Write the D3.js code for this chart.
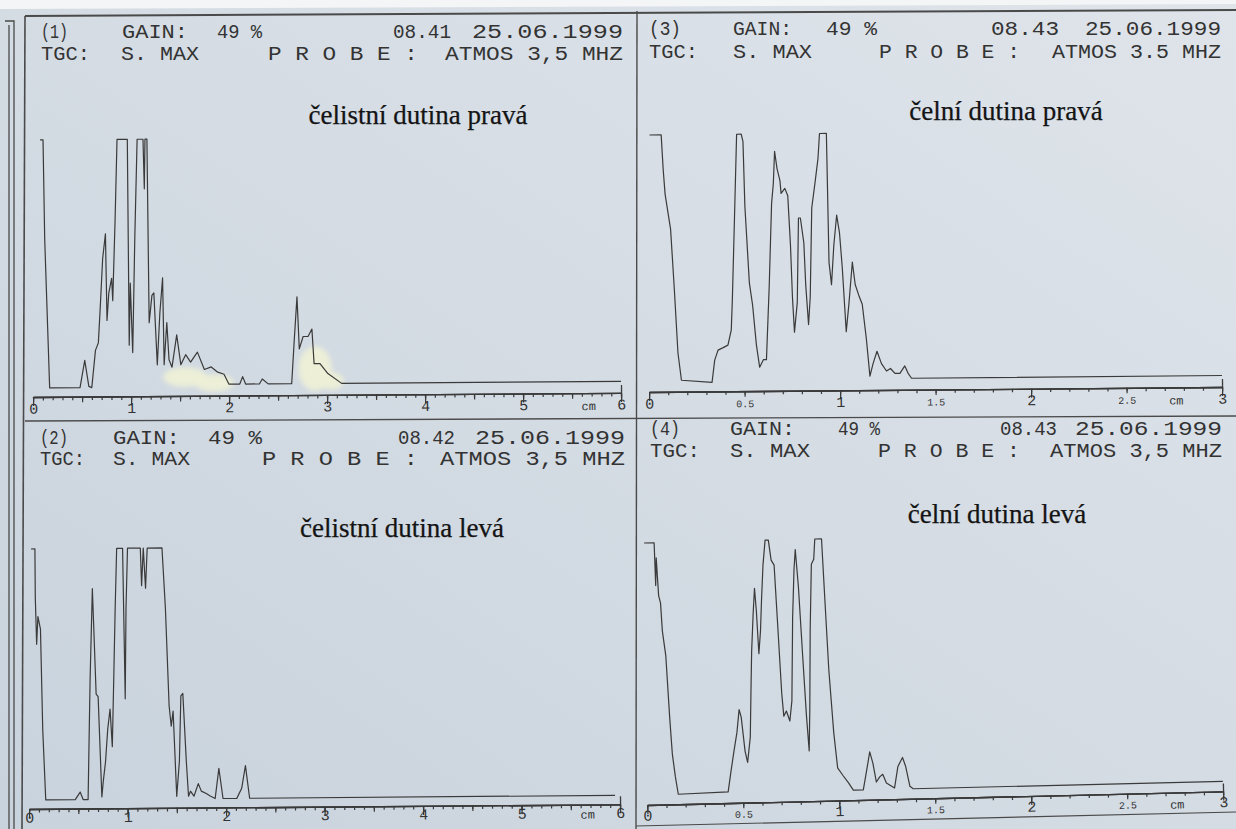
<!DOCTYPE html>
<html><head><meta charset="utf-8">
<script src="https://cdn.jsdelivr.net/npm/d3@7"></script>
<style>body{margin:0;background:#d4dbe2}svg{display:block}</style>
</head><body>
<svg id="c" width="1236" height="829"></svg>
<script>
// ---------------- DATA ----------------
const titles = ["čelistní dutina pravá", "čelistní dutina levá", "čelní dutina pravá", "čelní dutina levá"];
const panelNo = ["(1)", "(2)", "(3)", "(4)"];
const gainText = ["GAIN:", "49 %"];
const times = ["08.41", "08.42", "08.43", "08.43"];
const dateText = "25.06.1999";
const tgcText = ["TGC:", "S. MAX"];
const probeLabel = "P R O B E :";
const probeText = ["ATMOS 3,5 MHZ", "ATMOS 3,5 MHZ", "ATMOS 3.5 MHZ", "ATMOS 3,5 MHZ"];
const depthRange = [6, 6, 3, 3];            // cm
const ticksWide = [0, 1, 2, 3, 4, 5, 6];
const ticksNarrow = [0, 0.5, 1, 1.5, 2, 2.5, 3];
const unitLabel = "cm";

// traces: [depth cm, amplitude %]
const trace1 = [[0.09,100],[0.12,100],[0.13,60],[0.17,0],[0.48,0],[0.53,11],[0.57,0.5],[0.60,0],[0.64,15],[0.67,18],[0.69,31],[0.72,52],[0.75,62],[0.76,27],[0.78,38],[0.81,44],[0.82,35],[0.85,68],[0.875,100],[0.98,100],[0.985,17],[1.00,42],[1.02,14],[1.05,61],[1.08,100],[1.14,100],[1.15,80],[1.16,100],[1.18,100],[1.19,26],[1.22,37],[1.24,38],[1.27,9],[1.30,30],[1.33,44],[1.34,9],[1.37,26],[1.39,11],[1.42,8],[1.47,21],[1.51,9],[1.56,13],[1.61,10],[1.68,14],[1.75,7],[1.82,8],[1.88,6],[1.95,5],[2.00,1],[2.11,1],[2.14,4],[2.17,1],[2.31,1],[2.34,3],[2.40,1],[2.64,1],[2.67,19],[2.70,36],[2.72,15],[2.76,20],[2.81,20],[2.85,23],[2.87,9],[2.93,9],[3.01,5],[3.15,1],[6.0,1]];
const trace2 = [[0.04,100],[0.08,100],[0.08,81],[0.09,62],[0.105,73],[0.13,68],[0.145,28],[0.17,0],[0.47,0],[0.52,3],[0.55,0],[0.60,0],[0.63,48],[0.66,84],[0.69,42],[0.71,41],[0.74,1],[0.755,7],[0.78,15],[0.805,28],[0.83,36],[0.85,21],[0.87,48],[0.89,76],[0.91,100],[0.97,100],[0.985,40],[1.00,76],[1.02,100],[1.15,100],[1.16,85],[1.18,100],[1.20,84],[1.22,100],[1.37,100],[1.40,76],[1.43,37],[1.45,29],[1.47,35],[1.50,1],[1.53,15],[1.55,41],[1.57,42],[1.60,15],[1.62,1],[1.64,3],[1.675,1],[1.72,6],[1.75,3],[1.80,2],[1.84,1],[1.89,0],[1.93,12],[1.97,0],[2.11,0],[2.16,4],[2.20,13],[2.24,0],[5.95,0]];
const trace3 = [[0.014,100],[0.075,100],[0.084,86],[0.093,76],[0.12,62],[0.136,39],[0.153,12],[0.17,1],[0.33,0],[0.345,9],[0.363,13],[0.39,14],[0.415,15],[0.433,21],[0.44,33],[0.455,66],[0.47,100],[0.494,100],[0.503,97],[0.51,71],[0.53,40],[0.546,31],[0.564,15],[0.58,6],[0.60,9],[0.616,9],[0.634,39],[0.65,72],[0.66,80],[0.668,93],[0.68,86],[0.695,81],[0.70,76],[0.72,78],[0.735,75],[0.747,55],[0.755,34],[0.764,20],[0.78,32],[0.79,66],[0.80,66],[0.817,56],[0.825,39],[0.838,23],[0.848,34],[0.86,70],[0.878,80],[0.895,90],[0.904,100],[0.94,100],[0.948,48],[0.96,39],[0.974,55],[0.99,67],[1.004,60],[1.017,46],[1.035,20],[1.05,31],[1.07,48],[1.084,39],[1.105,34],[1.12,31],[1.14,17],[1.157,2],[1.174,7],[1.195,12],[1.218,7],[1.244,4],[1.265,5],[1.288,3],[1.314,3],[1.34,6],[1.357,3],[1.375,1],[3.0,1]];
const trace4 = [[0.016,100],[0.068,100],[0.071,83],[0.077,94],[0.085,79],[0.094,76],[0.10,65],[0.115,55],[0.128,30],[0.137,16],[0.15,7],[0.163,0],[0.423,0.5],[0.44,8.5],[0.458,16.5],[0.476,24],[0.49,33],[0.50,30],[0.516,16.5],[0.528,12],[0.545,22],[0.554,40],[0.5625,56],[0.575,71],[0.585,81],[0.592,72],[0.60,55],[0.611,64],[0.62,76],[0.632,90],[0.646,100],[0.663,100],[0.675,92],[0.69,90],[0.70,69],[0.714,39],[0.722,30],[0.736,32],[0.753,28],[0.766,36],[0.78,69],[0.793,88],[0.802,96],[0.814,81],[0.828,53],[0.84,30],[0.85,16],[0.858,32],[0.87,64],[0.884,90],[0.897,92],[0.905,100],[0.94,100],[0.95,76],[0.962,48],[0.98,23],[0.996,9],[1.022,6],[1.05,3],[1.075,0],[1.127,0],[1.15,9],[1.165,15],[1.18,10.5],[1.196,3],[1.214,5],[1.23,6],[1.248,2.5],[1.29,0.5],[1.31,9],[1.335,12.5],[1.35,9],[1.37,1],[1.387,0],[3.0,0]];
const traces = [trace1, trace2, trace3, trace4];
// glue stains on panel 1: [depth cm, amplitude %, half-width cm, half-height %]
const stains1 = [[1.55, 4, 0.22, 4], [1.85, 1.5, 0.2, 3.5], [2.88, 7, 0.17, 9], [3.05, 2, 0.12, 3.5]];

// ---------------- LAYOUT ----------------
const L = [
 {x0:33, x1:621, yB:388, yT:140, ax:397, rot:-0.4, tX:418, tY:124, r1:38, r2:60, pad:6,
  f1:[[41,68],[122,188],[217,262],[393,451],[472,623]], f2:[[41,90],[121,199],[268,418],[445,623]]},
 {x0:29, x1:620, yB:800, yT:549, ax:809, rot:-0.45, tX:402, tY:537, r1:444, r2:465, pad:3,
  f1:[[40,68],[113,180],[208,262],[398,455],[475,625]], f2:[[40,85],[113,190],[262,418],[440,625]]},
 {x0:649, x1:1222, yB:383, yT:135, ax:392, rot:-0.5, tX:1006, tY:120, r1:35, r2:58, pad:6,
  f1:[[649,681],[733,792],[826,877],[991,1059],[1085,1221]], f2:[[649,698],[733,812],[879,1020],[1052,1221]]},
 {x0:647, x1:1223, yB:795, yT:543, ax:805, rot:-1.35, tX:997, tY:523, r1:435, r2:457, pad:5,
  f1:[[650,680],[730,795],[838,880],[1000,1057],[1075,1222]], f2:[[650,700],[730,810],[878,1020],[1050,1222]]}
];

const svg = d3.select("#c");
const defs = svg.append("defs");
const g = defs.append("linearGradient").attr("id","bg").attr("x1","0").attr("y1","1").attr("x2","1").attr("y2","0");
g.append("stop").attr("offset","0").attr("stop-color","#c9d3dd");
g.append("stop").attr("offset","1").attr("stop-color","#dfe4ea");
defs.append("filter").attr("id","blur").append("feGaussianBlur").attr("stdDeviation",2.5);
svg.append("rect").attr("width",1236).attr("height",829).attr("fill","url(#bg)");
// paper edge at top
svg.append("path").attr("d","M0,0H1236V4L0,9Z").attr("fill","#f4f5f6");

const ink = "#3a3a3a";
// frame lines
const frame = svg.append("g").attr("stroke","#4a4a4a").attr("fill","none");
frame.append("path").attr("d","M25,16L1236,10").attr("stroke-width",2);
frame.append("path").attr("d","M25,16L22,829").attr("stroke-width",1.6);
frame.append("path").attr("d","M637,11L636,829").attr("stroke-width",1.4);
frame.append("path").attr("d","M25,421L1236,416").attr("stroke-width",1.3);
frame.append("path").attr("d","M636,826L1236,812").attr("stroke-width",1.2);
frame.append("path").attr("d","M5,21H14V829M9,25V829").attr("stroke-width",1.3);

const mono = "'Liberation Mono', 'DejaVu Sans Mono', monospace";

L.forEach((p, i) => {
  const maxCm = depthRange[i];
  const x = d3.scaleLinear().domain([0, maxCm]).range([p.x0, p.x1]);
  const y = d3.scaleLinear().domain([0, 100]).range([p.yB, p.yT]);

  // header text
  const hdr = svg.append("g").attr("font-family", mono).attr("font-size", 20).attr("fill", "#333");
  const row1 = [panelNo[i], gainText[0], gainText[1], times[i], dateText];
  const row2 = [tgcText[0], tgcText[1], probeLabel, probeText[i]];
  row1.forEach((t, k) => hdr.append("text").attr("x", p.f1[k][0]).attr("y", p.r1)
     .attr("textLength", p.f1[k][1]-p.f1[k][0]).attr("lengthAdjust","spacingAndGlyphs").text(t));
  row2.forEach((t, k) => hdr.append("text").attr("x", p.f2[k][0]).attr("y", p.r2)
     .attr("textLength", p.f2[k][1]-p.f2[k][0]).attr("lengthAdjust","spacingAndGlyphs").text(t));

  // title
  svg.append("text").attr("x", p.tX).attr("y", p.tY).attr("text-anchor","middle")
    .attr("font-family","'Liberation Serif', 'Times New Roman', serif").attr("font-size", 27)
    .attr("fill","#141414").attr("stroke","#141414").attr("stroke-width",0.25).text(titles[i]);

  const plot = svg.append("g").attr("transform", `rotate(${p.rot},${p.x0},${p.yB})`);

  if (i === 0) {
    plot.append("g").attr("filter","url(#blur)").selectAll("ellipse").data(stains1).join("ellipse")
      .attr("cx", d => x(d[0])).attr("cy", d => y(d[1]))
      .attr("rx", d => x(d[2]) - x(0)).attr("ry", d => y(0) - y(d[3]))
      .attr("fill","#eef0d6").attr("opacity",0.95);
  }

  plot.append("path").datum(traces[i])
    .attr("d", d3.line().x(d => x(d[0])).y(d => y(d[1])))
    .attr("fill","none").attr("stroke", ink).attr("stroke-width", 1.2).attr("stroke-linejoin","round");

  // axis
  const axG = plot.append("g").attr("transform", `translate(0,${p.ax})`);
  const minor = d3.range(0, Math.round(maxCm*10)+1).map(v => v/10);
  const mid = minor.filter(v => Math.abs(v*2 - Math.round(v*2)) < 1e-6);
  const major = maxCm === 6 ? ticksWide : ticksNarrow.filter(v => Number.isInteger(v));
  axG.append("g").call(d3.axisBottom(x).tickValues(minor).tickSize(3.5).tickSizeOuter(0).tickFormat(""));
  axG.append("g").call(d3.axisBottom(x).tickValues(mid).tickSize(5.5).tickSizeOuter(0).tickFormat(""));
  axG.append("g").call(d3.axisBottom(x).tickValues(major).tickSize(9).tickSizeOuter(0).tickFormat(""));
  axG.selectAll("path.domain").attr("stroke", ink).attr("stroke-width", 1.3);
  axG.selectAll(".tick line").attr("stroke", ink).attr("stroke-width", 1.2);
  // tall end tick
  axG.append("g").call(d3.axisTop(x).tickValues([maxCm]).tickSize(8).tickSizeOuter(0).tickFormat(""))
    .call(s => { s.select("path.domain").remove(); s.selectAll("line").attr("stroke", ink).attr("stroke-width",1.3); });

  // labels
  const labelVals = maxCm === 6 ? ticksWide : ticksNarrow;
  const lab = axG.append("g").call(d3.axisBottom(x).tickValues(labelVals).tickSize(0).tickPadding(p.pad)
      .tickFormat(d => String(d)));
  lab.select("path.domain").remove();
  lab.selectAll("text").attr("font-family", mono).attr("fill", "#333")
     .attr("font-size", d => Number.isInteger(d) ? 15 : 10)
     .attr("dy", d => Number.isInteger(d) ? "0.71em" : "1.0em");
  axG.append("text").attr("x", x(maxCm === 6 ? 5.67 : 2.76)).attr("y", p.pad + 11).attr("text-anchor","middle")
     .attr("font-family", mono).attr("font-size", 12).attr("fill", "#333").text(unitLabel);
});
</script>
</body></html>
